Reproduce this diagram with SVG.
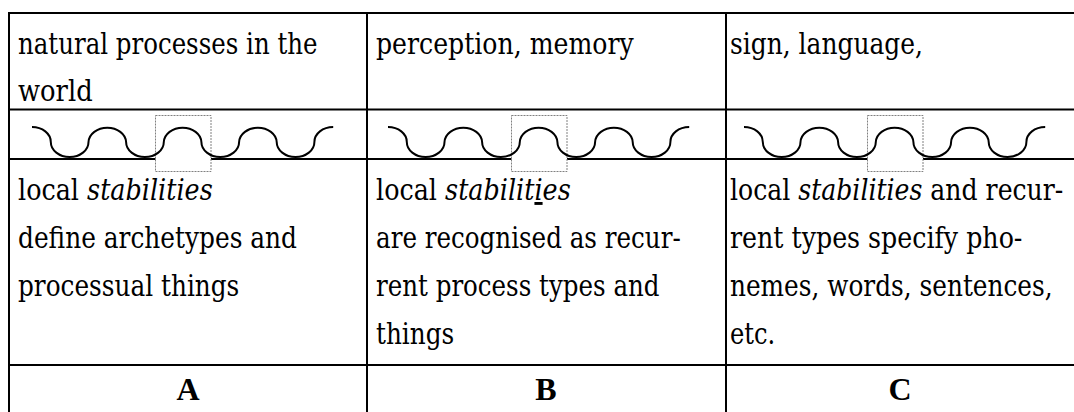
<svg xmlns="http://www.w3.org/2000/svg" width="1074" height="412" viewBox="0 0 1074 412">
  <style>
    .txt { font-family: "DejaVu Serif", serif; font-size: 29px; fill: #000; }
    .em { font-style: italic; }
    .lbl { font-family: "Liberation Serif", "DejaVu Serif", serif; font-size: 32px; font-weight: bold; fill: #000; text-anchor: middle; }
    .frame { fill: #fff; stroke: #808080; stroke-width: 1; stroke-dasharray: 2 1; }
    .wave { fill: none; stroke: #000; stroke-width: 2; }
    .rule { stroke: #000; stroke-width: 2; fill: none; }
  </style>
  <defs>
    <!-- one wavy process line with its highlighted crest -->
    <g id="process">
      <rect class="frame" x="155.5" y="115.5" width="55.5" height="56"/>
      <path class="wave" d="M32,127 A18.82,15 0 0 1 50.8,142 A18.82,15 0 0 0 88.5,142 A18.82,15 0 0 1 126.1,142 A18.82,15 0 0 0 163.8,142 A18.82,15 0 0 1 201.4,142 A18.82,15 0 0 0 239.1,142 A18.82,15 0 0 1 276.7,142 A18.82,15 0 0 0 314.4,142 A18.82,15 0 0 1 333.2,127"/>
    </g>
  </defs>

  <!-- table rules -->
  <g id="grid" class="rule">
    <line x1="8" y1="13" x2="1074" y2="13"/>
    <line x1="9" y1="12" x2="9" y2="412"/>
    <line x1="367" y1="12" x2="367" y2="412"/>
    <line x1="726" y1="12" x2="726" y2="412"/>
    <line x1="8" y1="109.5" x2="1074" y2="109.5"/>
    <line x1="8" y1="159" x2="1074" y2="159"/>
    <line x1="8" y1="365" x2="1074" y2="365"/>
  </g>

  <!-- column A -->
  <g id="colA">
    <text class="txt" x="18" y="54" textLength="299.5" lengthAdjust="spacingAndGlyphs">natural processes in the</text>
    <text class="txt" x="18" y="101" textLength="74.7" lengthAdjust="spacingAndGlyphs">world</text>
    <use href="#process"/>
    <text class="txt" x="18" y="200" textLength="194.7" lengthAdjust="spacingAndGlyphs">local <tspan class="em">stabilities</tspan></text>
    <text class="txt" x="18" y="248" textLength="279" lengthAdjust="spacingAndGlyphs">define archetypes and</text>
    <text class="txt" x="18" y="296" textLength="221.3" lengthAdjust="spacingAndGlyphs">processual things</text>
    <text class="lbl" x="188" y="400">A</text>
  </g>

  <!-- column B -->
  <g id="colB">
    <text class="txt" x="376" y="54" textLength="257.7" lengthAdjust="spacingAndGlyphs">perception, memory</text>
    <use href="#process" transform="translate(356,0)"/>
    <text class="txt" x="376" y="200" textLength="194.7" lengthAdjust="spacingAndGlyphs">local <tspan class="em">stabilit<tspan text-decoration="underline">i</tspan>es</tspan></text>
    <text class="txt" x="376" y="248" textLength="304.7" lengthAdjust="spacingAndGlyphs">are recognised as recur-</text>
    <text class="txt" x="376" y="296" textLength="283.5" lengthAdjust="spacingAndGlyphs">rent process types and</text>
    <text class="txt" x="376" y="344" textLength="78.2" lengthAdjust="spacingAndGlyphs">things</text>
    <text class="lbl" x="546" y="400">B</text>
  </g>

  <!-- column C -->
  <g id="colC">
    <text class="txt" x="730" y="54" textLength="192.9" lengthAdjust="spacingAndGlyphs">sign, language,</text>
    <use href="#process" transform="translate(712,0)"/>
    <text class="txt" x="730" y="200" textLength="333.3" lengthAdjust="spacingAndGlyphs">local <tspan class="em">stabilities</tspan> and recur-</text>
    <text class="txt" x="730" y="248" textLength="292.4" lengthAdjust="spacingAndGlyphs">rent types specify pho-</text>
    <text class="txt" x="730" y="296" textLength="322.6" lengthAdjust="spacingAndGlyphs">nemes, words, sentences,</text>
    <text class="txt" x="730" y="344" textLength="45.3" lengthAdjust="spacingAndGlyphs">etc.</text>
    <text class="lbl" x="900" y="400">C</text>
  </g>
</svg>
